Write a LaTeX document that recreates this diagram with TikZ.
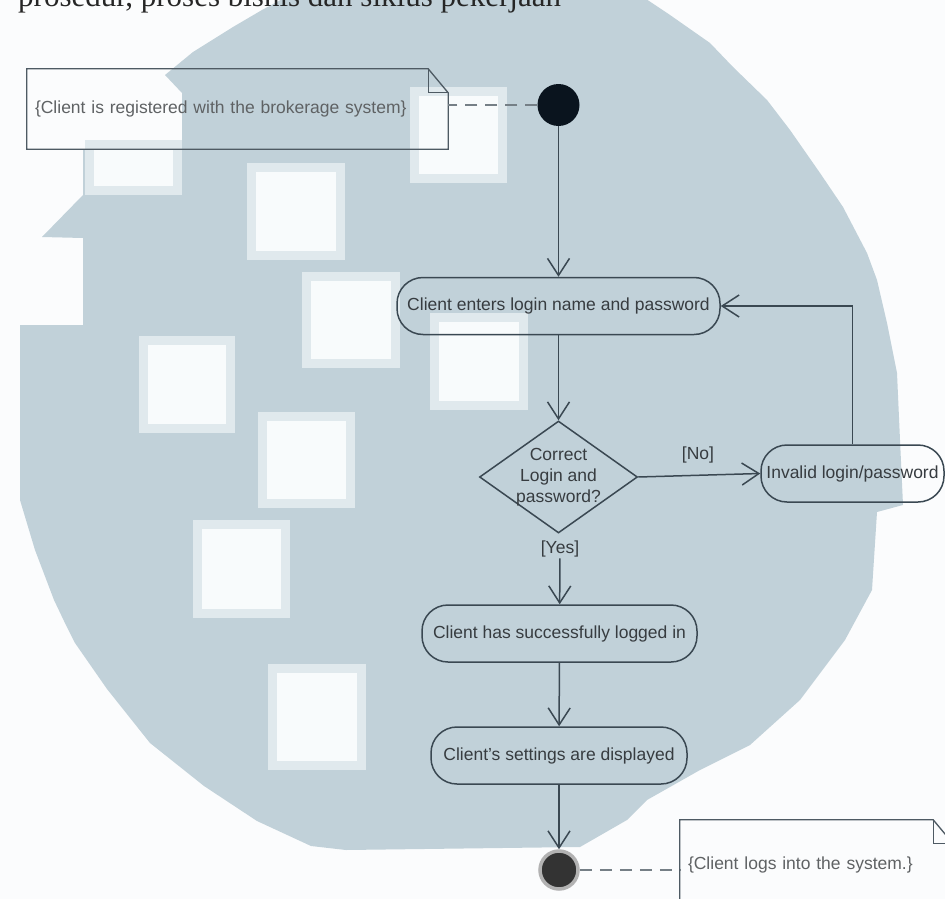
\documentclass[tikz,border=0pt]{standalone}
\usepackage{fontspec}
\setmainfont{Liberation Sans}
\newfontfamily\serifA{Liberation Serif}
\usetikzlibrary{shapes.geometric,arrows.meta,calc}
\definecolor{blob}{RGB}{193,209,217}
\definecolor{halo}{RGB}{224,233,237}
\definecolor{core}{RGB}{248,251,252}
\definecolor{paper}{RGB}{251,252,253}
\definecolor{ink}{RGB}{58,72,82}
\definecolor{txt}{RGB}{55,60,64}
\definecolor{notetxt}{RGB}{95,98,100}
\newcommand\wsq[4]{\fill[halo] (#1,#2) rectangle (#3,#4); \fill[core] ($(#1,#2)+(9,9)$) rectangle ($(#3,#4)+(-9,-9)$);}
\begin{document}
\begin{tikzpicture}[x=1pt,y=-1pt,
  lbl/.style={font=\fontsize{17.5}{21}\selectfont, text=txt},
  act/.style={lbl, draw=ink, line width=1.5pt, rounded corners=26pt, minimum height=57pt, inner sep=0pt},
  dec/.style={diamond, draw=ink, line width=1.5pt, minimum width=158pt, minimum height=112pt, inner sep=0pt},
  startnode/.style={circle, fill={rgb,255:red,10;green,20;blue,30}, minimum size=42pt, inner sep=0pt},
  endnode/.style={circle, fill=black!80, draw=gray!60, line width=3.5pt, minimum size=38pt, inner sep=0pt},
  notebox/.style={font=\fontsize{17.5}{21}\selectfont, text=notetxt, inner xsep=8pt, inner ysep=0pt, align=left},
  notedraw/.style={draw=ink!90, line width=1.3pt},
  flow/.style={draw=ink, line width=1.5pt, -{Straight Barb[length=17pt,width=22pt]}},
  link/.style={draw=ink!70, line width=1.5pt, dash pattern=on 12pt off 8pt},
]
\useasboundingbox (0,0) rectangle (945,899);
\clip (0,0) rectangle (945,899);
\fill[paper] (0,0) rectangle (945,899);
% background blob
\fill[blob] (290,-5) -- (640,-5) -- (670,15) -- (710,43) -- (733,67) -- (767,100) -- (790,130)
  -- (820,173) -- (843,207) -- (867,253) -- (877,280) -- (887,323) -- (897,373) -- (900,440)
  -- (903,505) -- (877,512) -- (872,590) -- (845,640) -- (800,700) -- (750,745) -- (700,770)
  -- (647,800) -- (627,820) -- (580,847) -- (346,850) -- (311,846) -- (257,821) -- (204,786)
  -- (150,743) -- (107,689) -- (75,643) -- (64,621) -- (54,600) -- (35,550) -- (20,500)
  -- (20,325) -- (83,325) -- (83,238) -- (42,237) -- (83,195) -- (83,150) -- (182,150)
  -- (182,93) -- (165,75) -- (193,52) -- (233,27) -- (262,10) -- cycle;
\wsq{410}{87}{507}{183}
\wsq{85}{140}{182}{195}
\wsq{247}{163}{345}{260}
\wsq{302}{272}{400}{368}
\wsq{139}{336}{235}{433}
\wsq{258}{412}{355}{508}
\wsq{193}{520}{290}{618}
\wsq{268}{664}{366}{770}
\wsq{430}{313}{528}{410}
% title text (cut off at top)
\node[anchor=base west, inner sep=0pt, font=\serifA\fontsize{31}{31}\selectfont, text=black!85] (title) at (18,6.5) {prosedur, proses bisnis dan siklus pekerjaan};
% nodes
\node[startnode] (start) at (558.5,105) {};
\node[act, minimum width=323pt] (a1) at (558.5,306) {Client enters login name and password};
\node[dec, label={[lbl, align=center]center:Correct\\Login and\\password?}] (dia) at (558.5,477) {};
\node[act, minimum width=183pt] (inv) at (852.5,473.5) {Invalid login/password};
\node[lbl, inner sep=1pt] (no) at (698,455) {[No]};
\node[lbl, inner sep=1pt] (yes) at (560,549) {[Yes]};
\node[act, minimum width=275pt] (a3) at (559.5,633.5) {Client has successfully logged in};
\node[act, minimum width=256pt] (a4) at (559,755.5) {Client's settings are displayed};
\node[endnode] (fin) at (559,870) {};
% notes
\node[notebox, minimum height=80pt, text width=405pt] (n1) at (237.5,109) {\{Client is registered with the brokerage system\}};
\draw[notedraw] (n1.north west) -- ($(n1.north east)+(-20,0)$) -- ($(n1.north east)+(0,24)$) -- (n1.south east) -- (n1.south west) -- cycle;
\draw[notedraw] ($(n1.north east)+(-20,0)$) -- ($(n1.north east)+(-20,24)$) -- ($(n1.north east)+(0,24)$);
\node[notebox, minimum height=90pt, text width=257pt] (n2) at (816.5,865) {\{Client logs into the system.\}};
\draw[notedraw] (n2.north west) -- ($(n2.north east)+(-20,0)$) -- ($(n2.north east)+(0,24)$) -- (n2.south east) -- (n2.south west) -- cycle;
\draw[notedraw] ($(n2.north east)+(-20,0)$) -- ($(n2.north east)+(-20,24)$) -- ($(n2.north east)+(0,24)$);
% connectors
\draw[link] (start.west) -- (start.west -| n1.east);
\draw[link] (fin.east) -- (fin.east -| n2.west);
\draw[flow] (start) -- (a1);
\draw[flow] (a1) -- (dia);
\draw[flow] (dia.east) -- (inv.west);
\draw[flow] (inv.north) |- (a1.east);
\draw[flow] (yes) -- (a3);
\draw[flow] (a3) -- (a4);
\draw[flow] (a4) -- (fin);
\end{tikzpicture}
\end{document}
